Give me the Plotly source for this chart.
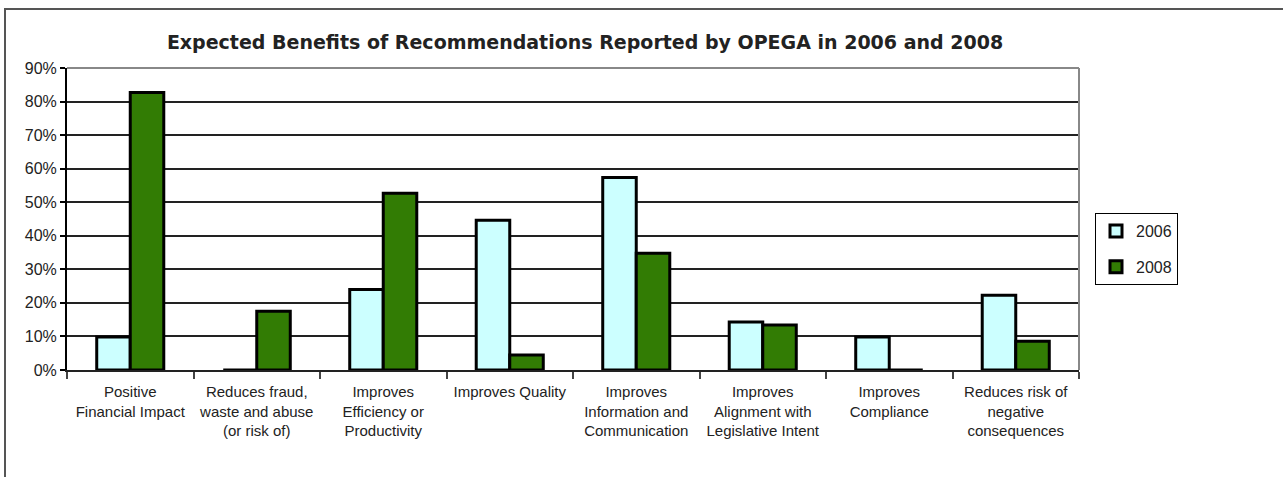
import plotly.graph_objects as go

categories = [
    "Positive<br>Financial Impact",
    "Reduces fraud,<br>waste and abuse<br>(or risk of)",
    "Improves<br>Efficiency or<br>Productivity",
    "Improves Quality",
    "Improves<br>Information and<br>Communication",
    "Improves<br>Alignment with<br>Legislative Intent",
    "Improves<br>Compliance",
    "Reduces risk of<br>negative<br>consequences",
]
values_2006 = [0.098, 0.0, 0.24, 0.446, 0.574, 0.143, 0.098, 0.223]
values_2008 = [0.827, 0.175, 0.527, 0.045, 0.348, 0.134, 0.0, 0.086]
y_ticks = [0, 0.1, 0.2, 0.3, 0.4, 0.5, 0.6, 0.7, 0.8, 0.9]

L, R, T, B = 67, 204, 68, 107
W, H = 1283, 477
pw, ph = W - L - R, H - T - B

def px_x(p):
    return (p - L) / pw

def px_y(p):
    return (H - B - p) / ph

SANS = "Liberation Sans, Arial, sans-serif"

fig = go.Figure()
fig.add_trace(go.Bar(name="2006", x=categories, y=values_2006, legendgroup="a",
                     marker=dict(color="#CCFFFF", line=dict(color="black", width=3))))
fig.add_trace(go.Bar(name="2008", x=categories, y=values_2008, legendgroup="b",
                     marker=dict(color="#327C04", line=dict(color="black", width=3))))

fig.update_layout(
    width=W, height=H,
    margin=dict(l=L, r=R, t=T, b=B, autoexpand=False),
    paper_bgcolor="white", plot_bgcolor="white",
    barmode="group", bargap=0.47, bargroupgap=0,
    font=dict(family=SANS, size=15, color="#222"),
    title=dict(text="Expected Benefits of Recommendations Reported by OPEGA in 2006 and 2008",
               x=585 / W, xanchor="center", y=1 - 42 / H, yanchor="middle",
               font=dict(family="DejaVu Sans", size=19, color="#222", weight="bold")),
    legend=dict(x=px_x(1095), y=px_y(213), xanchor="left", yanchor="top",
                bordercolor="black", borderwidth=1, bgcolor="white",
                font=dict(family=SANS, size=16, color="#222"), tracegroupgap=12,
                itemwidth=30),
    showlegend=True,
)
fig.update_xaxes(
    type="category", tickson="boundaries", ticks="outside", ticklen=7,
    tickcolor="#444", tickwidth=1.5, showgrid=False, showline=True,
    linecolor="#222", linewidth=2, tickfont=dict(size=15), tickangle=0,
    ticklabelstandoff=7, fixedrange=True,
)
fig.update_yaxes(
    range=[0, 0.9], tickvals=y_ticks, tickformat=".0%", ticks="outside",
    ticklen=5, tickcolor="black", tickwidth=1.5, showgrid=True, gridcolor="#222",
    gridwidth=1.5, showline=True, linecolor="black", linewidth=2, zeroline=False,
    tickfont=dict(size=16), fixedrange=True,
)
# plot area border (top & right in gray)
fig.add_shape(type="line", xref="x domain", yref="y domain", x0=0, x1=1, y0=1, y1=1,
              line=dict(color="#888", width=2), layer="above")
fig.add_shape(type="line", xref="x domain", yref="y domain", x0=1, x1=1, y0=0, y1=1,
              line=dict(color="#888", width=2), layer="above")
# outer frame
fig.add_shape(type="rect", xref="paper", yref="paper",
              x0=px_x(5), x1=px_x(1300), y0=px_y(500), y1=px_y(9),
              line=dict(color="#555", width=2))

fig.write_html("out.html")
